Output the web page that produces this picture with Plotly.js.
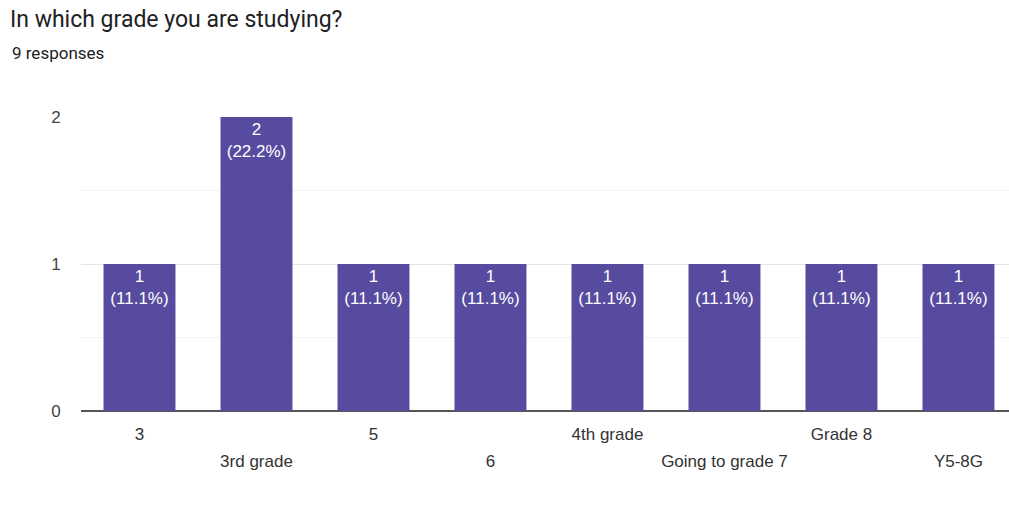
<!DOCTYPE html>
<html>
<head>
<meta charset="utf-8">
<script src="https://cdn.plot.ly/plotly-3.0.1.min.js"></script>
<style>
  html, body { margin: 0; padding: 0; background: #fff; overflow: hidden; }
  #chart { width: 1009px; height: 531px; }
</style>
</head>
<body>
<div id="chart"></div>
<script>
const titleText = "In which grade you are studying?";
const subtitleText = "9 responses";
const categories = ["3", "3rd grade", "5", "6", "4th grade", "Going to grade 7", "Grade 8", "Y5-8G"];
const counts = [1, 2, 1, 1, 1, 1, 1, 1];
const yTickVals = [0, 1, 2];

const total = counts.reduce((a, b) => a + b, 0);
const barText = counts.map(v => v + "<br>(" + (v / total * 100).toFixed(1) + "%)");
const tickText = categories.map((c, i) =>
  (i % 2 === 1 ? "<br>" : "") + "<span style='font-size:17px'>" + c + "</span>");

const trace = {
  type: "bar",
  x: categories,
  y: counts,
  marker: { color: "#574b9f" },
  text: barText,
  textposition: "inside",
  insidetextanchor: "end",
  textangle: 0,
  constraintext: "none",
  textfont: { family: "Arial, Liberation Sans, sans-serif", size: 17, color: "#ffffff" },
  hoverinfo: "none"
};

const layout = {
  width: 1009,
  height: 531,
  margin: { l: 81, r: 0, t: 117, b: 120, pad: 0 },
  paper_bgcolor: "#ffffff",
  plot_bgcolor: "#ffffff",
  bargap: 0.385,
  showlegend: false,
  font: { family: "Arial, Liberation Sans, sans-serif", color: "#333333" },
  title: {
    text: titleText,
    font: { family: "Roboto, Arial, sans-serif", size: 23, color: "#202124" },
    x: 10 / 1009, xref: "container", xanchor: "left",
    y: 1 - 19 / 531, yref: "container", yanchor: "middle"
  },
  annotations: [{
    text: subtitleText,
    xref: "paper", yref: "paper",
    x: (10 - 81) / 928, y: 1 + (117 - 53) / 294,
    xanchor: "left", yanchor: "middle",
    showarrow: false,
    font: { family: "Roboto, Arial, sans-serif", size: 17, color: "#202124" }
  }],
  xaxis: {
    type: "category",
    range: [-0.5, 7.432],
    tickmode: "array",
    tickvals: categories,
    ticktext: tickText,
    tickfont: { size: 21, color: "#333333" },
    showgrid: false,
    showline: false,
    zeroline: false,
    ticks: "",
    ticklabelstandoff: 7,
    fixedrange: true
  },
  yaxis: {
    range: [0, 2],
    tickmode: "array",
    tickvals: yTickVals,
    ticktext: yTickVals.map(String),
    tickfont: { size: 17, color: "#444444" },
    showgrid: true,
    gridcolor: "#e4e4e4",
    gridwidth: 1,
    zeroline: true,
    zerolinecolor: "#555555",
    zerolinewidth: 2,
    showline: false,
    ticks: "outside",
    ticklen: 16,
    tickcolor: "rgba(0,0,0,0)",
    minor: { tickvals: [0.5, 1.5], showgrid: true, gridcolor: "#f3f3f3", gridwidth: 1, ticks: "" },
    fixedrange: true
  },
  hovermode: false
};

Plotly.newPlot("chart", [trace], layout, { displayModeBar: false, staticPlot: true });
</script>
</body>
</html>
